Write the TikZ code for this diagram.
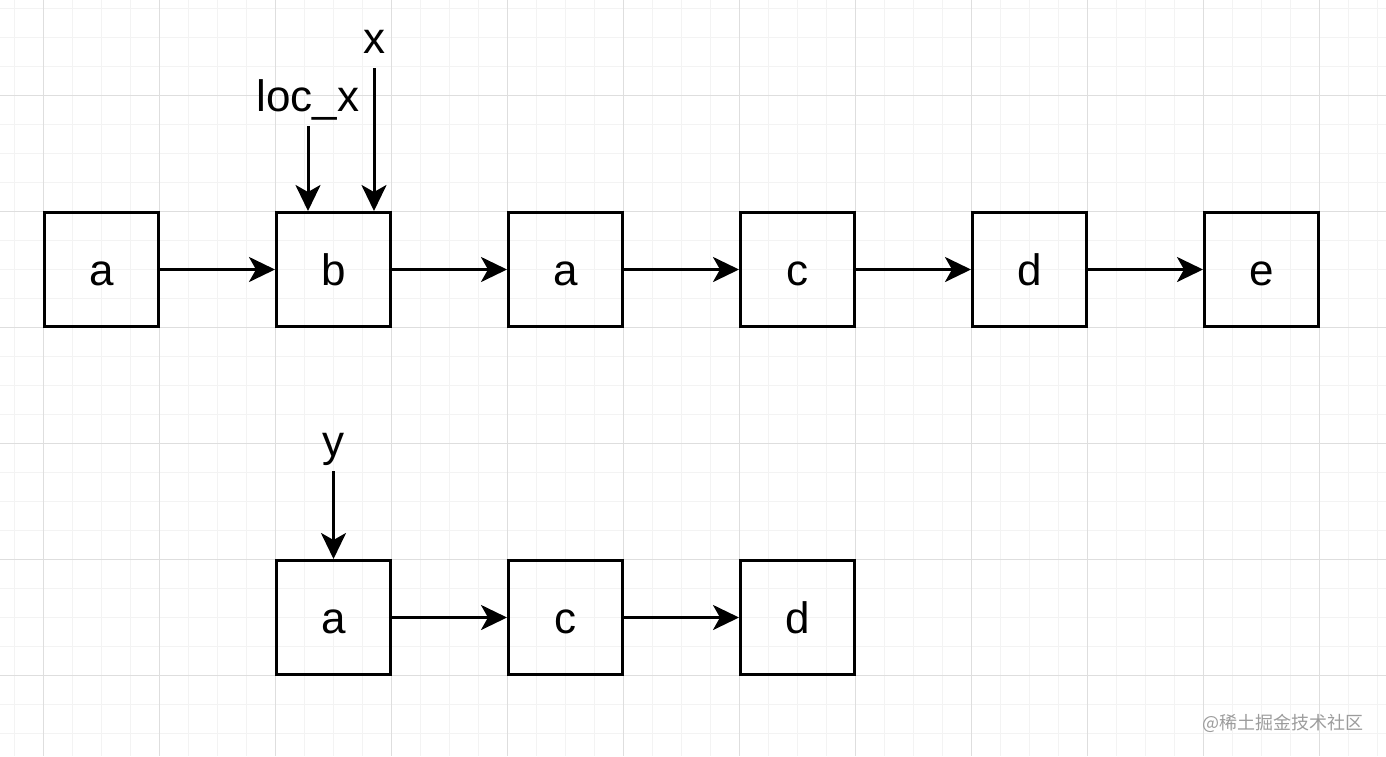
\documentclass[tikz,border=0pt]{standalone}
\usepackage{fontspec}
\setmainfont{Liberation Sans}
\newfontfamily\cjkfont{Noto Sans CJK SC}
\usetikzlibrary{arrows.meta}
\definecolor{gridfine}{HTML}{F3F3F3}
\definecolor{gridbold}{HTML}{DEDEDE}
\definecolor{wmgrey}{HTML}{9C9C9C}
\tikzset{
  cell/.style={draw,line width=3pt,minimum size=114pt,inner sep=0pt,
    font=\fontsize{44}{50}\selectfont,text height=31pt,text depth=0pt},
  ptr/.style={anchor=base,inner sep=0pt,font=\fontsize{44}{50}\selectfont,text depth=15pt},
  link/.style={line width=3pt,-{Stealth[length=26pt,width=25pt,inset=7pt]}},
  finegrid/.style={draw=gridfine,line width=1pt},
  boldgrid/.style={draw=gridbold,line width=1pt}
}

\begin{document}
\begin{tikzpicture}[x=1pt,y=1pt]
    \useasboundingbox (0,0) rectangle (1386,-756);
    %
    % -- Background grid
    \foreach \gx in {14,43,...,1386} \draw[finegrid] (\gx,0) -- (\gx,-756);
    \foreach \gy in {8,37,...,756} \draw[finegrid] (0,-\gy) -- (1386,-\gy);
    \foreach \gx in {43,159,...,1386} \draw[boldgrid] (\gx,0) -- (\gx,-756);
    \foreach \gy in {95,211,...,756} \draw[boldgrid] (0,-\gy) -- (1386,-\gy);

    % -- First list: a b a c d e
    \node[cell] (a1) at (101.5,-269.5) {a};
    \node[cell] (b1) at (333.5,-269.5) {b};
    \node[cell] (a2) at (565.5,-269.5) {a};
    \node[cell] (c1) at (797.5,-269.5) {c};
    \node[cell] (d1) at (1029.5,-269.5) {d};
    \node[cell] (e1) at (1261.5,-269.5) {e};

    % -- Second list: a c d
    \node[cell] (a3) at (333.5,-617.5) {a};
    \node[cell] (c2) at (565.5,-617.5) {c};
    \node[cell] (d2) at (797.5,-617.5) {d};

    % -- Pointers
    \node[ptr] (locx) at (308,-111) {loc\_x};
    \node[ptr] (x) at (374,-53) {x};
    \node[ptr] (y) at (333.5,-456) {y};

    % -- Draw the links
    \draw[link] (a1) -- (b1);
    \draw[link] (b1) -- (a2);
    \draw[link] (a2) -- (c1);
    \draw[link] (c1) -- (d1);
    \draw[link] (d1) -- (e1);
    \draw[link] (a3) -- (c2);
    \draw[link] (c2) -- (d2);

    % Pointer arrows
    \draw[link] (locx.south) -- (locx.south |- b1.north);
    \draw[link] (x.south) -- (x.south |- b1.north);
    \draw[link] (y.south) -- (a3.north);

    % Watermark
    \node[anchor=east,inner sep=0pt,text=wmgrey,font=\cjkfont\fontsize{18}{22}\selectfont] (wm) at (1364,-723) {@稀土掘金技术社区};
\end{tikzpicture}
\end{document}
